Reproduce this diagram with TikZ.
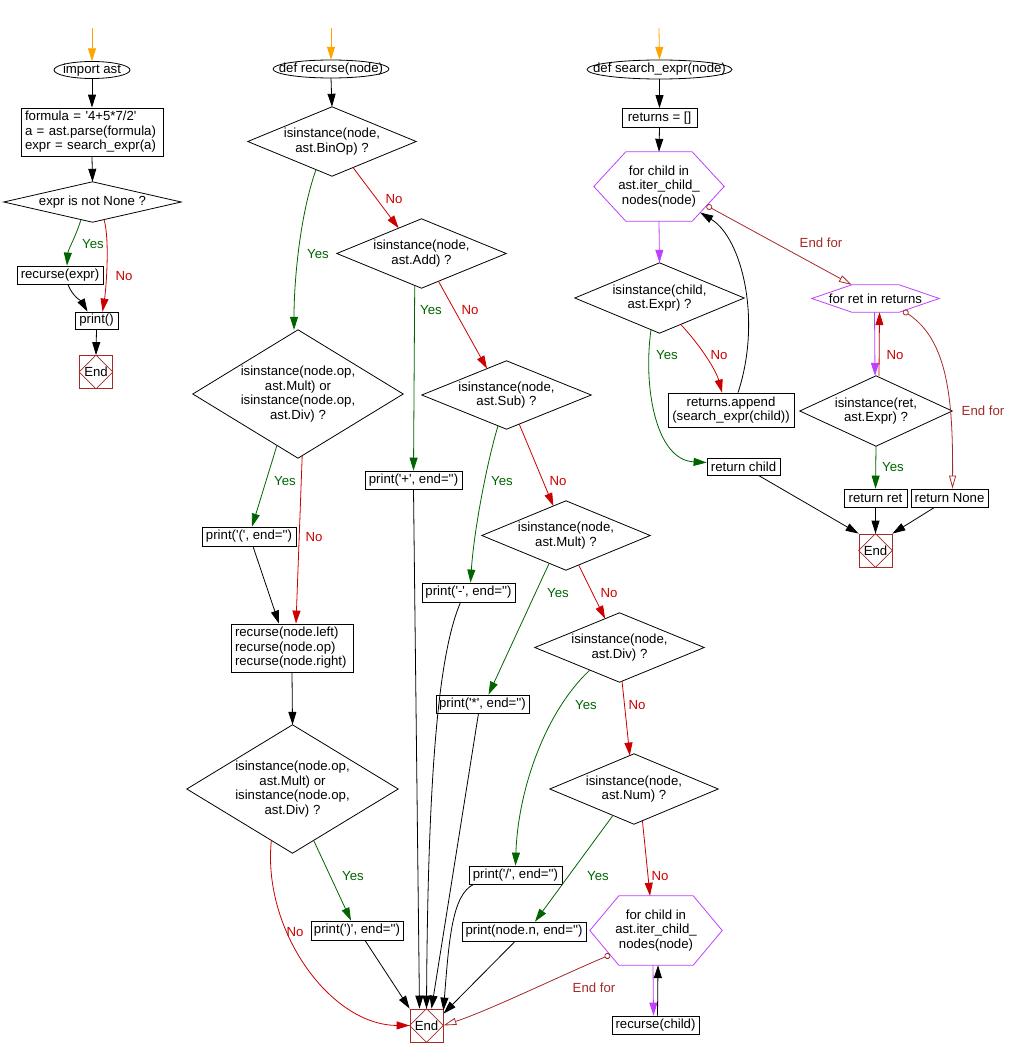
\documentclass[tikz,border=0pt]{standalone}
\usepackage{fontspec}
\setmainfont{Liberation Sans}
\usetikzlibrary{arrows.meta,calc}
\definecolor{cgreen}{RGB}{0,100,0}
\definecolor{cred}{RGB}{204,0,0}
\definecolor{cpurple}{RGB}{191,64,255}
\definecolor{cbrown}{RGB}{165,42,42}
\definecolor{corange}{RGB}{255,165,0}
\newcommand{\q}{\textquotesingle}
\newcommand{\termell}[3]{\draw[line width=0.8pt] (#1.center) ellipse [x radius=#2pt, y radius=#3pt];}
\newcommand{\decdia}[1]{\draw[line width=0.8pt] (#1.north) -- (#1.east) -- (#1.south) -- (#1.west) -- cycle;}
\newcommand{\stopdia}[1]{\draw[cbrown,line width=0.8pt] (#1.north) -- (#1.east) -- (#1.south) -- (#1.west) -- cycle;}
\newcommand{\hexa}[2]{\draw[cpurple,line width=0.8pt] (#1.west) -- ($(#1.north west)+(#2,0)$) -- ($(#1.north east)+(-#2,0)$) -- (#1.east) -- ($(#1.south east)+(-#2,0)$) -- ($(#1.south west)+(#2,0)$) -- cycle;}
\begin{document}
\begin{tikzpicture}[x=1pt,y=-1pt,
  every node/.style={font=\fontsize{13.2}{14.5}\selectfont, inner sep=0pt},
  bx/.style={draw, line width=0.8pt, rectangle, align=center},
  nb/.style={rectangle, align=center},
  endn/.style={draw=cbrown, line width=0.8pt, minimum width=33, minimum height=33},
  ar/.style={line width=0.8pt, -{Triangle[length=13pt,width=8pt]}},
  gar/.style={ar, cgreen},
  rar/.style={ar, cred},
  par/.style={ar, cpurple},
  oar/.style={ar, corange},
  ef/.style={line width=0.8pt, cbrown, {Circle[open,length=6pt,width=6pt]}-{Triangle[open,length=13pt,width=7pt]}},
  ylab/.style={text=cgreen},
  nlab/.style={text=cred},
  elab/.style={text=cbrown}
]
\fill[white] (0,0) rectangle (1017,1057);
\useasboundingbox (0,0) rectangle (1017,1057);

% ---------- left column ----------
\coordinate (o1) at (92,28);
\node[nb, minimum width=76, minimum height=17] (imp) at (92,70) {import ast};
\termell{imp}{38}{8.5}
\node[bx, align=left, text width=134, inner xsep=4pt, minimum height=48] (form) at (92,132) {formula = \q4+5*7/2\q\\a = ast.parse(formula)\\expr = search\_expr(a)};
\node[nb, minimum width=177, minimum height=40] (expr) at (92.5,202) {expr is not None ?};
\decdia{expr}
\node[bx, minimum width=86, minimum height=18] (rex) at (60,275) {recurse(expr)};
\node[bx, minimum width=43, minimum height=17] (prt) at (96.5,320.5) {print()};
\node[endn] (e1) at (96,372) {};
\stopdia{e1}
\node (e1t) at (e1.center) {End};

% ---------- middle column ----------
\coordinate (o2) at (331,28);
\node[nb, minimum width=116, minimum height=18] (rec) at (331,69) {def recurse(node)};
\termell{rec}{58}{9}
\node[nb, minimum width=168, minimum height=69] (bin) at (332,141.5) {isinstance(node,\\ast.BinOp) ?};
\decdia{bin}
\node[nb, minimum width=169, minimum height=69] (add) at (421.5,253.5) {isinstance(node,\\ast.Add) ?};
\decdia{add}
\node[nb, minimum width=210, minimum height=128] (mdA) at (298,394) {isinstance(node.op,\\ast.Mult) or\\isinstance(node.op,\\ast.Div) ?};
\decdia{mdA}
\node[nb, minimum width=169, minimum height=68] (sub) at (506.5,395) {isinstance(node,\\ast.Sub) ?};
\decdia{sub}
\node[bx, minimum width=97, minimum height=18] (pplus) at (413.5,480) {print(\q+\q, end=\q\q)};
\node[bx, minimum width=94, minimum height=19] (popen) at (249,536.5) {print(\q(\q, end=\q\q)};
\node[bx, minimum width=93, minimum height=19] (pminus) at (468.5,592.5) {print(\q-\q, end=\q\q)};
\node[bx, align=left, text width=114, inner xsep=4pt, minimum height=48] (rl) at (292,648) {recurse(node.left)\\recurse(node.op)\\recurse(node.right)};
\node[nb, minimum width=168, minimum height=69] (mult) at (566,535.5) {isinstance(node,\\ast.Mult) ?};
\decdia{mult}
\node[nb, minimum width=169, minimum height=69] (div) at (619.5,647.5) {isinstance(node,\\ast.Div) ?};
\decdia{div}
\node[bx, minimum width=93, minimum height=18] (ptimes) at (482.5,704) {print(\q*\q, end=\q\q)};
\node[nb, minimum width=211, minimum height=128] (mdB) at (292.5,789) {isinstance(node.op,\\ast.Mult) or\\isinstance(node.op,\\ast.Div) ?};
\decdia{mdB}
\node[bx, minimum width=92, minimum height=19] (pclose) at (357,930.5) {print(\q)\q, end=\q\q)};
\node[endn] (e2) at (426.5,1025.5) {};
\stopdia{e2}
\node (e2t) at (e2.center) {End};
\node[nb, minimum width=168, minimum height=70] (num) at (634,789) {isinstance(node,\\ast.Num) ?};
\decdia{num}
\node[bx, minimum width=93, minimum height=18] (pdiv) at (515.5,875) {print(\q/\q, end=\q\q)};
\node[bx, minimum width=124, minimum height=19] (pnn) at (524,931.5) {print(node.n, end=\q\q)};
\node[nb, minimum width=132, minimum height=69] (hx2) at (656,930.5) {for child in\\ast.iter\_child\_\\nodes(node)};
\hexa{hx2}{29}
\coordinate (hx2bl) at ($(hx2.south west)+(29,0)$);
\node[bx, minimum width=87, minimum height=18] (rch) at (655.5,1025) {recurse(child)};

% ---------- right column ----------
\coordinate (o3) at (659,28);
\node[nb, minimum width=145, minimum height=19] (ese) at (659.5,69.5) {def search\_expr(node)};
\termell{ese}{72.5}{9.5}
\node[bx, minimum width=75, minimum height=19] (ret0) at (659.5,118) {returns = []};
\node[nb, minimum width=130, minimum height=69] (hx1) at (659,186.5) {for child in\\ast.iter\_child\_\\nodes(node)};
\hexa{hx1}{32}
\coordinate (hx1br) at ($(hx1.south east)+(-32,0)$);
\node[nb, minimum width=169, minimum height=70] (cex) at (659.5,298) {isinstance(child,\\ast.Expr) ?};
\decdia{cex}
\node[bx, minimum width=126, minimum height=34] (app) at (731,410) {returns.append\\(search\_expr(child))};
\node[bx, minimum width=73, minimum height=17] (retc) at (743.5,466.5) {return child};
\node[nb, minimum width=127, minimum height=27] (fr) at (875.5,298.5) {for ret in returns};
\hexa{fr}{40}
\coordinate (frbr) at ($(fr.south east)+(-40,0)$);
\coordinate (frtl) at ($(fr.north west)+(40,0)$);
\node[nb, minimum width=152, minimum height=70] (rx) at (876,411) {isinstance(ret,\\ast.Expr) ?};
\decdia{rx}
\node[bx, minimum width=63, minimum height=18] (rret) at (875.5,498) {return ret};
\node[bx, minimum width=77, minimum height=18] (rnone) at (949.5,498) {return None};
\node[endn] (e3) at (875.5,550.5) {};
\stopdia{e3}
\node (e3t) at (e3.center) {End};

% ---------- connectors: left ----------
\draw[oar] (o1) -- (imp.north);
\draw[ar] (imp.south) -- (form.north);
\draw[ar] (form.south) -- (expr.north);
\draw[gar] ($(expr.south)!0.13!(expr.west)$) .. controls (76,236) and (68,250) .. ($(rex.north)+(7,0)$);
\draw[rar] ($(expr.south)!0.13!(expr.east)$) .. controls (110,240) and (106,290) .. ($(prt.north)+(6,0)$);
\draw[ar] ($(rex.south)+(8,0)$) .. controls (72,296) and (82,302) .. ($(prt.north)+(-9,0)$);
\draw[ar] (prt.south) -- (e1.north);
\node[ylab] (l1) at (93,244) {Yes};
\node[nlab] (l2) at (124,276) {No};

% ---------- connectors: middle ----------
\draw[oar] (o2) -- (rec.north);
\draw[ar] (rec.south) -- (bin.north);
\draw[gar] ($(bin.south)!0.19!(bin.west)$) .. controls (300,215) and (294,280) .. ($(mdA.north)+(-4,0)$);
\draw[rar] ($(bin.south)!0.25!(bin.east)$) -- ($(add.north)!0.27!(add.west)$);
\draw[gar] ($(add.south)!0.08!(add.west)$) -- (pplus.north);
\draw[rar] ($(add.south)!0.2!(add.east)$) -- ($(sub.north)!0.23!(sub.west)$);
\draw[gar] ($(sub.south)!0.1!(sub.west)$) .. controls (487,462) and (474,530) .. ($(pminus.north)+(2,0)$);
\draw[rar] ($(sub.south)!0.15!(sub.east)$) -- ($(mult.north)!0.15!(mult.west)$);
\draw[gar] ($(mult.south)!0.2!(mult.west)$) -- ($(ptimes.north)+(6,0)$);
\draw[rar] ($(mult.south)!0.15!(mult.east)$) -- ($(div.north)!0.17!(div.west)$);
\draw[gar] ($(div.south)!0.35!(div.west)$) .. controls (545,712) and (518,790) .. (pdiv.north);
\draw[rar] ($(div.south)!0.03!(div.east)$) -- ($(num.north)!0.05!(num.west)$);
\draw[gar] ($(num.south)!0.25!(num.west)$) -- ($(pnn.north)+(11,0)$);
\draw[rar] ($(num.south)!0.1!(num.east)$) -- ($(hx2.north)+(-6,0)$);
\draw[par] ($(hx2.south)+(-3,0)$) -- ($(rch.north)+(-2,0)$);
\draw[ar] ($(rch.north)+(2,0)$) -- ($(hx2.south)+(2,0)$);
\draw[ef] ($(hx2bl)!0.3!(hx2.west)$) .. controls (560,976) and (490,1010) .. (e2.east);
\draw[gar] ($(mdA.south)!0.2!(mdA.west)$) -- ($(popen.north)+(3,0)$);
\draw[rar] ($(mdA.south)!0.04!(mdA.east)$) -- ($(rl.north)+(4,0)$);
\draw[ar] ($(popen.south)+(4,0)$) -- ($(rl.north)+(-13,0)$);
\draw[ar] (rl.south) -- (mdB.north);
\draw[gar] ($(mdB.south)!0.2!(mdB.east)$) -- ($(pclose.north)+(-6,0)$);
\draw[rar] ($(mdB.south)!0.2!(mdB.west)$) .. controls (262,930) and (330,1025) .. (e2.west);
\draw[ar] ($(pclose.south)+(8,0)$) -- (e2.north west);
\draw[ar] (pplus.south) -- ($(e2.north)+(-7,0)$);
\draw[ar] ($(pminus.south)+(-8,0)$) .. controls (440,650) and (428,760) .. (e2.north);
\draw[ar] ($(ptimes.south)+(-4,0)$) -- ($(e2.north)+(5,0)$);
\draw[ar] ($(pdiv.south)+(-42,0)$) .. controls (452,895) and (449,940) .. ($(e2.north east)+(0,2)$);
\draw[ar] ($(pnn.south)+(-9,0)$) -- ($(e2.north east)!0.15!(e2.south east)$);
\node[nlab] (l3) at (394,199) {No};
\node[ylab] (l4) at (318,254) {Yes};
\node[ylab] (l5) at (431,310) {Yes};
\node[nlab] (l6) at (470,310) {No};
\node[ylab] (l7) at (285,481) {Yes};
\node[nlab] (l8) at (314,537) {No};
\node[ylab] (l9) at (502,481) {Yes};
\node[nlab] (l10) at (558,481) {No};
\node[ylab] (l11) at (558,593) {Yes};
\node[nlab] (l12) at (609,593) {No};
\node[ylab] (l13) at (586,705) {Yes};
\node[nlab] (l14) at (637,705) {No};
\node[ylab] (l15) at (598,876) {Yes};
\node[nlab] (l16) at (660,876) {No};
\node[ylab] (l17) at (353,876) {Yes};
\node[nlab] (l18) at (295,932) {No};
\node[elab] (l19) at (594,988) {End for};

% ---------- connectors: right ----------
\draw[oar] (o3) -- (ese.north);
\draw[ar] (ese.south) -- (ret0.north);
\draw[ar] (ret0.south) -- (hx1.north);
\draw[par] (hx1.south) -- (cex.north);
\draw[rar] ($(cex.south)!0.25!(cex.east)$) .. controls (700,345) and (716,370) .. ($(app.north)+(-9,0)$);
\draw[gar] ($(cex.south)!0.1!(cex.west)$) .. controls (643,385) and (655,460) .. ($(retc.west)+(0,-4)$);
\draw[ar] ($(app.north)+(7,0)$) .. controls (762,320) and (742,238) .. ($(hx1br)!0.25!(hx1.east)$);
\draw[ef] ($(hx1br)!0.45!(hx1.east)$) -- (frtl);
\draw[par] ($(fr.south)+(-1,0)$) -- ($(rx.north)+(-1,0)$);
\draw[rar] ($(rx.north)+(3,0)$) -- ($(fr.south)+(4,0)$);
\draw[ef] ($(frbr)!0.1!(fr.east)$) .. controls (948,340) and (953,400) .. ($(rnone.north)+(3,0)$);
\draw[gar] (rx.south) -- (rret.north);
\draw[ar] ($(retc.south)+(15,0)$) -- (e3.north west);
\draw[ar] (rret.south) -- (e3.north);
\draw[ar] ($(rnone.south)+(-15,0)$) -- (e3.north east);
\node[ylab] (l20) at (667,355) {Yes};
\node[nlab] (l21) at (719,355) {No};
\node[elab] (l22) at (821,243) {End for};
\node[nlab] (l23) at (895,355) {No};
\node[elab] (l24) at (983,411) {End for};
\node[ylab] (l25) at (893,467) {Yes};
\end{tikzpicture}
\end{document}
